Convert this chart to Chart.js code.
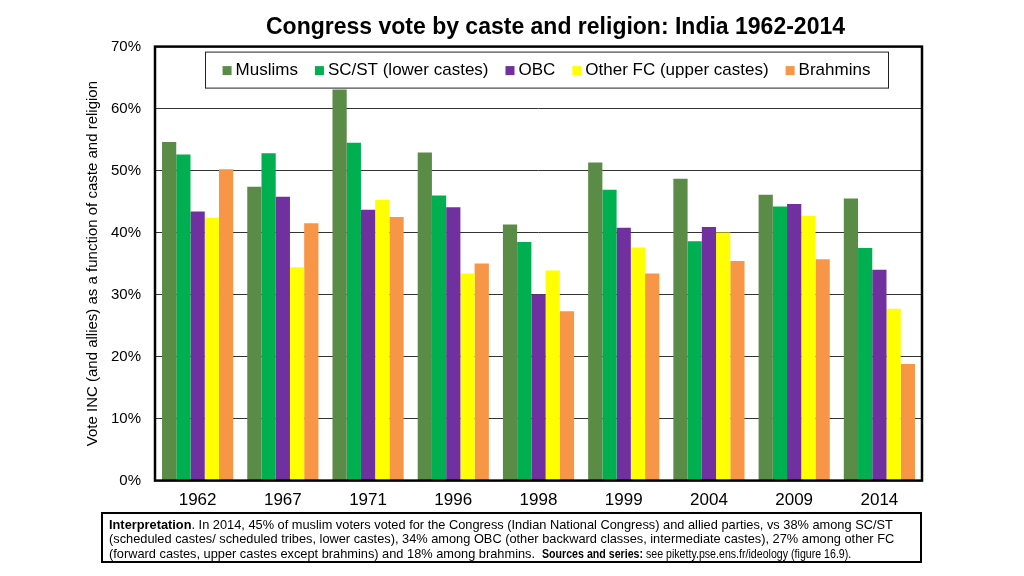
<!DOCTYPE html>
<html>
<head>
<meta charset="utf-8">
<script src="https://cdn.jsdelivr.net/npm/chart.js@4"></script>
<style>
  html,body{margin:0;padding:0;background:#fff;}
  #wrap{position:relative;width:1024px;height:576px;}
  #note{position:absolute;left:101px;top:512px;width:821px;height:51px;border:2px solid #000;box-sizing:border-box;
        font-family:"Liberation Sans",Arial,sans-serif;font-size:12.8px;line-height:14.4px;color:#000;
        padding:4px 0 0 6px;white-space:nowrap;overflow:hidden;}
  #note .s{display:inline-block;font-size:12.5px;transform:scaleX(0.85);transform-origin:0 50%;}
</style>
</head>
<body>
<div id="wrap">
<canvas id="c" width="1024" height="576"></canvas>
<div id="note"><b>Interpretation</b>. In 2014, 45% of muslim voters voted for the Congress (Indian National Congress) and allied parties, vs 38% among SC/ST<br>(scheduled castes/ scheduled tribes, lower castes), 34% among OBC (other backward classes, intermediate castes), 27% among other FC<br>(forward castes, upper castes except brahmins) and 18% among brahmins.&nbsp; <span class="s"><b>Sources and series:</b> see piketty.pse.ens.fr/ideology (figure 16.9).</span></div>
</div>
<script>
const years = ["1962","1967","1971","1996","1998","1999","2004","2009","2014"];
const seriesNames = ["Muslims","SC/ST (lower castes)","OBC","Other FC (upper castes)","Brahmins"];
const muslims  = [54.6, 47.4, 63.1, 52.9, 41.3, 51.3, 48.7, 46.1, 45.5];
const scst     = [52.6, 52.8, 54.5, 46.0, 38.5, 46.9, 38.6, 44.2, 37.5];
const obc      = [43.4, 45.8, 43.7, 44.1, 30.0, 40.8, 40.9, 44.6, 34.0];
const otherFC  = [42.4, 34.4, 45.3, 33.4, 33.9, 37.6, 40.0, 42.7, 27.7];
const brahmins = [50.2, 41.5, 42.5, 35.0, 27.3, 33.4, 35.4, 35.7, 18.8];
const yTicks = [0,10,20,30,40,50,60,70];
const colors = ["#5B8C47","#00B050","#7030A0","#FFFF00","#F79646"];
const chartTitle = 'Congress vote by caste and religion: India 1962-2014';

const values = [muslims, scst, obc, otherFC, brahmins];
const FONT = "'Liberation Sans', Arial, sans-serif";

const framePlugin = {
  id: 'frame',
  afterDraw(chart) {
    const ctx = chart.ctx, a = chart.chartArea;
    ctx.save();
    // title
    ctx.fillStyle = '#000';
    ctx.font = "bold 23px " + FONT;
    ctx.textAlign = 'center';
    ctx.textBaseline = 'middle';
    ctx.fillText(chartTitle, (a.left + a.right) / 2 + 17, 28);
    ctx.textAlign = 'left';
    // plot frame
    ctx.strokeStyle = '#000';
    ctx.lineWidth = 2.5;
    ctx.strokeRect(a.left, a.top, a.right - a.left, a.bottom - a.top);
    // legend box
    const bx = a.left + 50, bx2 = a.right - 34, by = a.top + 5, by2 = a.top + 41;
    ctx.fillStyle = '#fff';
    ctx.fillRect(bx, by, bx2 - bx, by2 - by);
    ctx.lineWidth = 1;
    ctx.strokeStyle = '#222';
    ctx.strokeRect(bx + 0.5, by + 0.5, bx2 - bx, by2 - by);
    ctx.font = "17px " + FONT;
    ctx.textBaseline = 'middle';
    const mk = 9, gapT = 4, gapI = 17;
    let total = 0;
    const ws = chart.data.datasets.map(d => ctx.measureText(d.label).width);
    ws.forEach(w => total += mk + gapT + w);
    total += gapI * (ws.length - 1);
    let x = (bx + bx2) / 2 - total / 2;
    const cy = (by + by2) / 2;
    chart.data.datasets.forEach((d, i) => {
      ctx.fillStyle = d.backgroundColor;
      ctx.fillRect(x, cy - mk / 2 + 1, mk, mk);
      x += mk + gapT;
      ctx.fillStyle = '#000';
      ctx.fillText(d.label, x, cy + 1);
      x += ws[i] + gapI;
    });
    ctx.restore();
  }
};

new Chart(document.getElementById('c'), {
  type: 'bar',
  data: {
    labels: years,
    datasets: seriesNames.map((n, i) => ({
      label: n,
      data: values[i],
      backgroundColor: colors[i],
      borderWidth: 0,
      barPercentage: 1.0,
      categoryPercentage: 0.835
    }))
  },
  options: {
    responsive: false,
    animation: false,
    layout: { padding: { left: 79, right: 102, top: 46.6, bottom: 55 } },
    plugins: {
      legend: { display: false },
      tooltip: { enabled: false },
      title: { display: false }
    },
    scales: {
      x: {
        grid: { display: false, drawTicks: false },
        border: { display: false },
        ticks: { color: '#000', font: { family: FONT, size: 17 }, padding: 10 }
      },
      y: {
        min: 0, max: 70,
        afterBuildTicks(axis) { axis.ticks = yTicks.map(v => ({ value: v })); },
        afterFit(axis) { axis.width = 76; },
        ticks: { color: '#000', font: { family: FONT, size: 15 }, padding: 14, callback: v => v + '%' },
        grid: { color: '#333', lineWidth: 1, drawTicks: false },
        border: { display: false },
        title: {
          display: true,
          text: 'Vote INC (and allies) as a function of caste and religion',
          color: '#000',
          font: { family: FONT, size: 15 },
          padding: { top: 5, bottom: 0 }
        }
      }
    }
  },
  plugins: [framePlugin]
});
</script>
</body>
</html>
